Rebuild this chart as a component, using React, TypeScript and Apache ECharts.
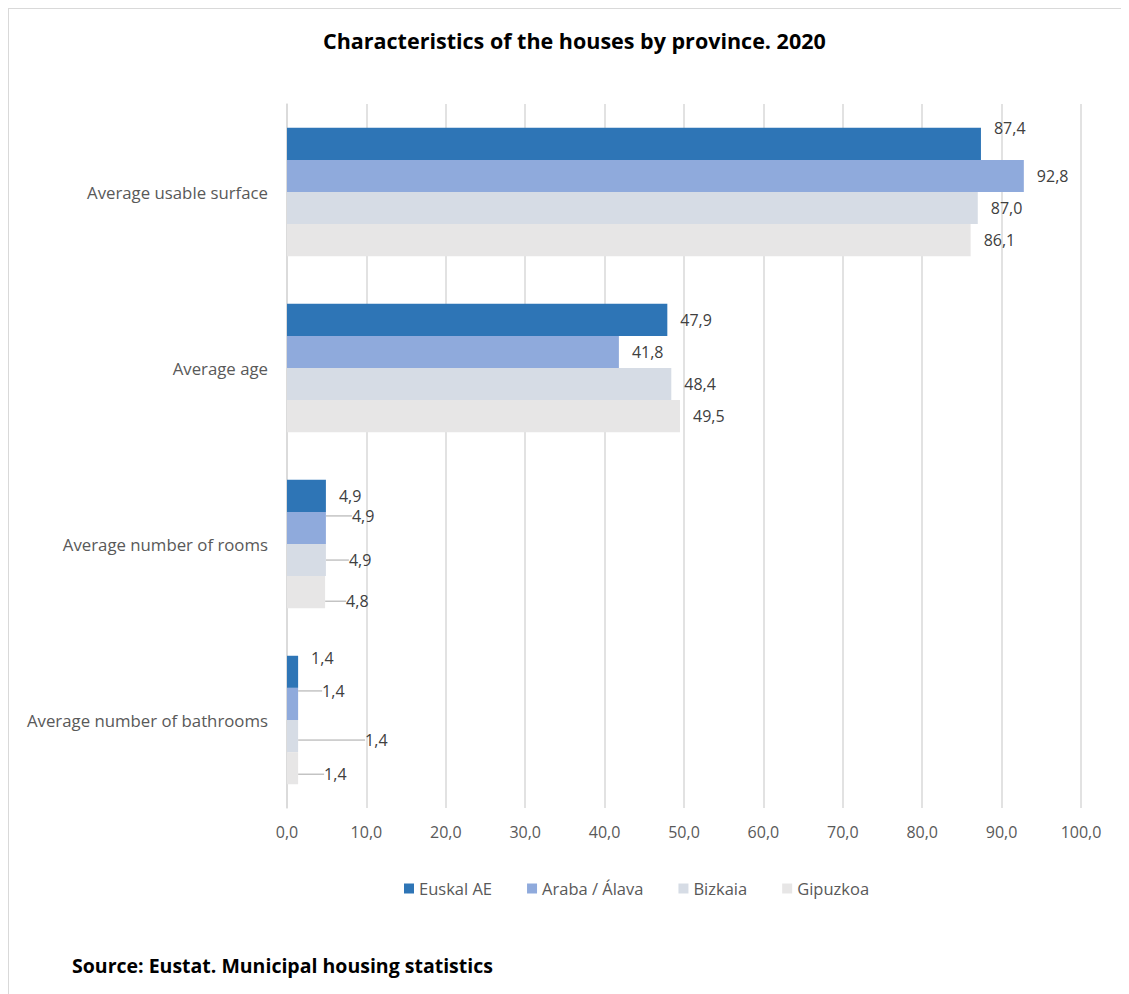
import React, { useEffect, useRef } from "react";
import * as echarts from "echarts";

const categories = [
  "Average usable surface",
  "Average age",
  "Average number of rooms",
  "Average number of bathrooms",
];
const seriesNames = ["Euskal AE", "Araba / Álava", "Bizkaia", "Gipuzkoa"];
const euskalAE = [87.4, 47.9, 4.9, 1.4];
const araba = [92.8, 41.8, 4.9, 1.4];
const bizkaia = [87.0, 48.4, 4.9, 1.4];
const gipuzkoa = [86.1, 49.5, 4.8, 1.4];
const colors = ["#2E75B6", "#8FAADC", "#D6DCE5", "#E7E6E6"];

// label offsets [dx, dy, showLine] per series / category
const labelOffsets: [number, number, boolean][][] = [
  [[0, -16, false], [0, 0, false], [0, 0, false], [0, -14, false]],
  [[0, 0, false], [0, 0, false], [13, -12, true], [11, -13, true]],
  [[0, 0, false], [0, 0, false], [10, 0, true], [54, 4, true]],
  [[0, 0, false], [0, 0, false], [8, 9, true], [13, 6, true]],
];

const FONT = "'Open Sans', sans-serif";
const fmt = (v: number) => v.toFixed(1).replace(".", ",");

export default function App() {
  const ref = useRef<HTMLDivElement>(null);
  useEffect(() => {
    if (!ref.current) return;
    const chart = echarts.init(ref.current, undefined, { renderer: "svg" });
    const allData = [euskalAE, araba, bizkaia, gipuzkoa];
    chart.setOption({
      animation: false,
      textStyle: { fontFamily: FONT },
      title: {
        text: "Characteristics of the houses by province. 2020",
        left: 309,
        top: 15,
        textStyle: { fontFamily: FONT, fontSize: 21.5, fontWeight: "bold", color: "#000" },
      },
      legend: {
        left: 390,
        top: 866,
        itemWidth: 10,
        itemHeight: 10,
        itemGap: 35,
        icon: "rect",
        textStyle: { fontFamily: FONT, fontSize: 16.5, color: "#595959" },
        data: seriesNames,
      },
      grid: { left: 278, right: 48, top: 95, bottom: 186 },
      xAxis: {
        type: "value",
        min: 0,
        max: 100,
        interval: 10,
        axisLine: { show: false },
        axisTick: { show: false },
        splitLine: { lineStyle: { color: "#D9D9D9", width: 1.5 } },
        axisLabel: {
          formatter: (v: number) => fmt(v),
          color: "#595959",
          fontSize: 16,
          fontFamily: FONT,
          margin: 16,
        },
      },
      yAxis: {
        type: "category",
        inverse: true,
        data: categories,
        axisLine: { show: true, lineStyle: { color: "#D9D9D9", width: 1.5 } },
        axisTick: { show: false },
        axisLabel: { color: "#595959", fontSize: 16.8, fontFamily: FONT, margin: 19 },
      },
      series: allData.map((d, si) => ({
        name: seriesNames[si],
        type: "bar",
        barCategoryGap: "27%",
        barGap: "0%",
        itemStyle: { color: colors[si] },
        label: {
          show: true,
          position: "right",
          distance: 13,
          formatter: (p: any) => fmt(p.value),
          color: "#404040",
          fontSize: 16,
          fontFamily: FONT,
        },
        labelLine: { show: false, lineStyle: { color: "#A6A6A6", width: 1 } },
        labelLayout: (p: any) => {
          const o = labelOffsets[p.seriesIndex][p.dataIndex];
          return { dx: o[0], dy: o[1] };
        },
        data: d.map((v, di) => ({
          value: v,
          labelLine: {
            show: labelOffsets[si][di][2],
            lineStyle: { color: "#A6A6A6", width: 1 },
          },
        })),
      })),
      graphic: [
        {
          type: "text",
          left: 63,
          top: 946,
          style: {
            text: "Source: Eustat. Municipal housing statistics",
            fontFamily: FONT,
            fontSize: 19.5,
            fontWeight: "bold",
            fill: "#000",
          },
        },
      ],
    });
    return () => chart.dispose();
  }, []);
  return (
    <div
      style={{
        width: 1121,
        height: 986,
        borderTop: "1px solid #D9D9D9",
        borderLeft: "1px solid #D9D9D9",
        boxSizing: "border-box",
        background: "#fff",
      }}
    >
      <div ref={ref} style={{ width: 1120, height: 985 }} />
    </div>
  );
}
